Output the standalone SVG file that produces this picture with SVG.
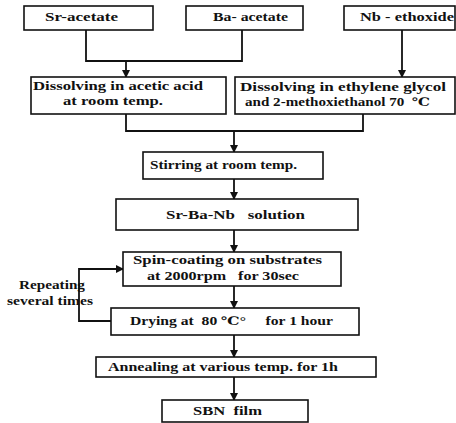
<svg xmlns="http://www.w3.org/2000/svg" width="456" height="423" viewBox="0 0 456 423">
<style>
rect{fill:#fff;stroke:#111;stroke-width:1.6}
text{font-family:"Liberation Serif","DejaVu Serif",serif;font-weight:bold;font-size:11.5px;fill:#111;white-space:pre}
.c path{fill:none;stroke:#111;stroke-width:1.8}
</style>
<defs>
<marker id="ah" markerWidth="8" markerHeight="8" refX="7" refY="4" orient="auto" markerUnits="userSpaceOnUse">
<path d="M0,0 L8,4 L0,8 Z" fill="#111"/>
</marker>
</defs>
<rect x="0" y="0" width="456" height="423" style="stroke:none"/>
<g class="c" id="connectors">
<path d="M86,30 V61 H242 V30"/>
<path d="M126,61 V77" marker-end="url(#ah)"/>
<path d="M402,30 V77" marker-end="url(#ah)"/>
<path d="M126,114 V131 H363 V114"/>
<path d="M234,131 V152" marker-end="url(#ah)"/>
<path d="M234,179 V199" marker-end="url(#ah)"/>
<path d="M234,230 V252" marker-end="url(#ah)"/>
<path d="M234,286 V308" marker-end="url(#ah)"/>
<path d="M111,321 H79 V269 H123" marker-end="url(#ah)"/>
<path d="M234,335 V357" marker-end="url(#ah)"/>
<path d="M234,377 V400" marker-end="url(#ah)"/>
</g>
<g id="sr"><rect x="24" y="6" width="129" height="24"/><text x="45" y="21" textLength="73" lengthAdjust="spacingAndGlyphs">Sr-acetate</text></g>
<g id="ba"><rect x="186" y="6" width="117" height="24"/><text x="213" y="21" textLength="75" lengthAdjust="spacingAndGlyphs">Ba- acetate</text></g>
<g id="nb"><rect x="344" y="6" width="111" height="24"/><text x="360" y="21" textLength="94" lengthAdjust="spacingAndGlyphs">Nb - ethoxide</text></g>
<g id="dis1"><rect x="31" y="77" width="195" height="37"/><text x="33" y="90" textLength="170" lengthAdjust="spacingAndGlyphs">Dissolving in acetic acid</text><text x="63" y="105" textLength="100" lengthAdjust="spacingAndGlyphs">at room temp.</text></g>
<g id="dis2"><rect x="235" y="77" width="220" height="37"/><text x="240" y="91" textLength="206" lengthAdjust="spacingAndGlyphs">Dissolving in ethylene glycol</text><text x="245" y="106" textLength="185" lengthAdjust="spacingAndGlyphs" xml:space="preserve">and 2-methoxiethanol 70  ℃</text></g>
<g id="stir"><rect x="143" y="152" width="180" height="27"/><text x="150" y="169" textLength="147" lengthAdjust="spacingAndGlyphs">Stirring at room temp.</text></g>
<g id="sol"><rect x="116" y="199" width="242" height="31"/><text x="166" y="219" textLength="139" lengthAdjust="spacingAndGlyphs" xml:space="preserve">Sr-Ba-Nb   solution</text></g>
<g id="spin"><rect x="123" y="252" width="218" height="34"/><text x="133" y="264" textLength="189" lengthAdjust="spacingAndGlyphs">Spin-coating on substrates</text><text x="147" y="280" textLength="152" lengthAdjust="spacingAndGlyphs" xml:space="preserve">at 2000rpm   for 30sec</text></g>
<g id="rep"><text x="19" y="289" textLength="66" lengthAdjust="spacingAndGlyphs">Repeating</text><text x="7" y="305" textLength="86" lengthAdjust="spacingAndGlyphs">several times</text></g>
<g id="dry"><rect x="111" y="308" width="248" height="27"/><text x="130" y="325" textLength="203" lengthAdjust="spacingAndGlyphs" xml:space="preserve">Drying at  80 ℃°     for 1 hour</text></g>
<g id="ann"><rect x="96" y="357" width="280" height="20"/><text x="108" y="371" textLength="230" lengthAdjust="spacingAndGlyphs">Annealing at various temp. for 1h</text></g>
<g id="sbn"><rect x="162" y="400" width="146" height="22"/><text x="193" y="415" textLength="69" lengthAdjust="spacingAndGlyphs" xml:space="preserve">SBN  film</text></g>
</svg>
